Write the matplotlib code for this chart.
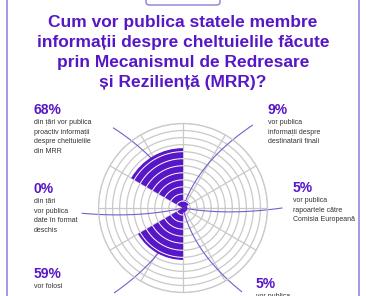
import numpy as np
import matplotlib
matplotlib.use("Agg")
import matplotlib.pyplot as plt
from matplotlib.patches import FancyBboxPatch
from matplotlib.lines import Line2D

plt.rcParams['font.family'] = ['Liberation Sans', 'DejaVu Sans']

# ---- data ----
categories = ["proactiv", "date deschise", "folosi", "publica jos", "rapoarte CE", "destinatari"]
values = [68, 0, 59, 5, 5, 9]
angles_deg = [120, 180, 240, 300, 0, 60]
pct_labels = ["68%", "0%", "59%", "5%", "5%", "9%"]
body_texts = [
    ["din țări vor publica", "proactiv informații", "despre cheltuielile", "din MRR"],
    ["din țări", "vor publica", "date în format", "deschis"],
    ["vor folosi"],
    ["vor publica"],
    ["vor publica", "rapoartele către", "Comisia Europeană"],
    ["vor publica", "informații despre", "destinatarii finali"],
]
title_lines = ["Cum vor publica statele membre",
               "informații despre cheltuielile făcute",
               "prin Mecanismul de Redresare",
               "și Reziliență (MRR)?"]

PURPLE = "#5717c6"
LINE = "#7a5cd0"
FRAME = "#8d7bd8"
GRID = "#c9c9c9"

W, H = 366, 296
fig = plt.figure(figsize=(W / 100, H / 100), dpi=100)
fig.patch.set_facecolor("white")

def fx(x): return x / W
def fy(y): return 1 - y / H

# frame
fig.add_artist(Line2D([fx(7), fx(7)], [0, 1], color=FRAME, lw=1.1))
fig.add_artist(Line2D([fx(359), fx(359)], [0, 1], color=FRAME, lw=1.1))
box = FancyBboxPatch((fx(146), fy(5)), fx(220) - fx(146), 0.1,
                     boxstyle="round,pad=0,rounding_size=0.01",
                     transform=fig.transFigure, fill=False, ec=FRAME, lw=1.0)
fig.add_artist(box)

# title
for i, line in enumerate(title_lines):
    fig.text(0.5, fy(22 + 20.3 * i), line, ha="center", va="center", fontsize=12.5,
             fontweight="bold", color=PURPLE)

# polar chart
cx, cy = 183, 208
R_px = 84.5
RMAX = 96
ax = fig.add_axes([fx(cx - R_px), (H - cy - R_px) / H, 2 * R_px / W, 2 * R_px / H],
                  projection="polar")
ax.set_ylim(0, RMAX)
ax.set_xticks(np.deg2rad(np.arange(0, 360, 30)))
ax.set_yticks(np.arange(8, RMAX + 1, 8))
ax.set_xticklabels([])
ax.set_yticklabels([])
ax.grid(True, color=GRID, lw=0.9)
ax.spines["polar"].set_color(GRID)
ax.spines["polar"].set_linewidth(0.9)
ax.set_axisbelow(True)

rings = np.arange(0, RMAX + 1, 8)
width = np.deg2rad(60)
for v, a in zip(values, angles_deg):
    if v <= 0:
        continue
    ax.bar(np.deg2rad(a), v, width=width, bottom=0, color=PURPLE,
           edgecolor="none", linewidth=0, zorder=3)
    inner = rings[(rings > 0) & (rings < v)]
    th = np.linspace(np.deg2rad(a - 30), np.deg2rad(a + 30), 60)
    for r in inner:
        ax.plot(th, np.full_like(th, r), color="white", lw=0.7, zorder=4)

# leader lines (quadratic curves from label to centre)
px2r = RMAX / R_px
leaders = [(131, 106, -22), (183, 101, 10), (231, 109, 22),
           (305, 102, -22), (0, 99, -10), (50, 108, 22)]
t = np.linspace(0, 1, 80)
for ang, rp, bend in leaders:
    p0 = np.array([np.cos(np.deg2rad(ang)), np.sin(np.deg2rad(ang))]) * rp
    cb = np.array([np.cos(np.deg2rad(ang + bend)), np.sin(np.deg2rad(ang + bend))]) * rp * 0.45
    pts = ((1 - t) ** 2)[:, None] * p0 + (2 * (1 - t) * t)[:, None] * cb
    th = np.arctan2(pts[:, 1], pts[:, 0])
    rr = np.hypot(pts[:, 0], pts[:, 1]) * px2r
    ax.plot(th, rr, color=LINE, lw=0.8, zorder=2, clip_on=False)

# labels
label_pos = [(34, 110), (34, 189), (34, 274), (256, 284), (293, 188), (268, 110)]
for (x, y), p, body in zip(label_pos, pct_labels, body_texts):
    fig.text(fx(x), fy(y), p, ha="left", va="center", fontsize=10,
             fontweight="bold", color=PURPLE)
    for i, line in enumerate(body):
        fig.text(fx(x), fy(y + 12.5 + 9.7 * i), line, ha="left", va="center",
                 fontsize=5.0, color="#333333")

fig.savefig("out.png", dpi=100, facecolor="white")
